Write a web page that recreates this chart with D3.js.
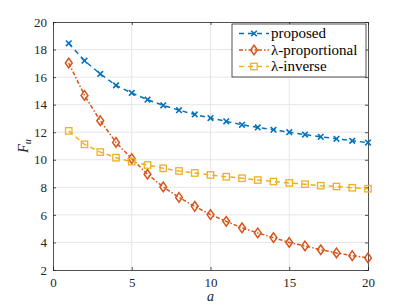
<!DOCTYPE html>
<html>
<head>
<meta charset="utf-8">
<script src="https://cdn.jsdelivr.net/npm/d3@7"></script>
<style>
  body { margin: 0; background: #fff; }
  svg text { font-family: "Liberation Serif", "DejaVu Serif", "Times New Roman", serif !important; }
</style>
</head>
<body>
<div id="chart"></div>
<script>
// data
const aValues = d3.range(1, 21);
const proposed = [18.45, 17.19, 16.23, 15.4, 14.85, 14.36, 13.95, 13.6, 13.29, 13.03,
                  12.79, 12.54, 12.35, 12.18, 12.0, 11.83, 11.67, 11.52, 11.38, 11.25];
const lambdaProp = [17.02, 14.67, 12.84, 11.26, 10.08, 8.95, 8.03, 7.27, 6.62, 6.02,
                    5.53, 5.06, 4.69, 4.35, 4.0, 3.75, 3.47, 3.24, 3.04, 2.88];
const lambdaInv = [12.1, 11.12, 10.56, 10.15, 9.86, 9.62, 9.38, 9.19, 9.04, 8.9,
                   8.77, 8.66, 8.53, 8.42, 8.32, 8.23, 8.12, 8.06, 7.97, 7.9];
const xTicks = [0, 5, 10, 15, 20];
const yTicks = [2, 4, 6, 8, 10, 12, 14, 16, 18, 20];
const seriesNames = ["proposed", "\u03bb-proportional", "\u03bb-inverse"];

const W = 407, H = 305;
const margin = {left: 53, right: 39, top: 22, bottom: 35};
const serif = '"Liberation Serif", "DejaVu Serif", serif';

const svg = d3.select("#chart").append("svg")
    .attr("width", W)
    .attr("height", H)
    .attr("font-family", serif);

const x = d3.scaleLinear().domain([0, 20]).range([margin.left, W - margin.right]);
const y = d3.scaleLinear().domain([2, 20]).range([H - margin.bottom, margin.top]);

// grid
svg.append("g").selectAll("line").data(xTicks.slice(1, -1)).join("line")
    .attr("x1", d => x(d)).attr("x2", d => x(d))
    .attr("y1", y(2)).attr("y2", y(20))
    .attr("stroke", "#e6e6e6").attr("stroke-width", 1);
svg.append("g").selectAll("line").data(yTicks.slice(1, -1)).join("line")
    .attr("x1", x(0)).attr("x2", x(20))
    .attr("y1", d => y(d)).attr("y2", d => y(d))
    .attr("stroke", "#e6e6e6").attr("stroke-width", 1);

// axes (ticks inward, box)
const axisColor = "#262626";
svg.append("g").attr("transform", `translate(0,${y(2)})`)
    .call(d3.axisBottom(x).tickValues(xTicks).tickSize(-3).tickPadding(8));
svg.append("g").attr("transform", `translate(${x(0)},0)`)
    .call(d3.axisLeft(y).tickValues(yTicks).tickSize(-3).tickPadding(6));
svg.append("g").attr("transform", `translate(0,${y(20)})`)
    .call(d3.axisTop(x).tickValues(xTicks).tickSize(-3).tickFormat(""));
svg.append("g").attr("transform", `translate(${x(20)},0)`)
    .call(d3.axisRight(y).tickValues(yTicks).tickSize(-3).tickFormat(""));
svg.selectAll("g").attr("font-family", serif);
svg.selectAll(".domain").attr("stroke", axisColor).attr("stroke-width", 0.8);
svg.selectAll(".tick line").attr("stroke", axisColor).attr("stroke-width", 0.8);
svg.selectAll(".tick text").attr("fill", axisColor).attr("font-size", 13);

// axis labels
svg.append("text")
    .attr("x", x(10)).attr("y", 301)
    .attr("text-anchor", "middle")
    .attr("font-size", 14).attr("font-style", "italic")
    .attr("fill", axisColor)
    .text("a");
const yl = svg.append("text")
    .attr("transform", `translate(28,${y(11)}) rotate(-90)`)
    .attr("text-anchor", "middle")
    .attr("font-size", 14).attr("font-style", "italic")
    .attr("fill", axisColor);
yl.append("tspan").text("F");
yl.append("tspan").attr("dy", 3).attr("font-size", 10).text("u");

// series
const series = [
  {name: seriesNames[0], values: proposed, color: "#0072BD", dash: "5,4", marker: "x"},
  {name: seriesNames[1], values: lambdaProp, color: "#D95319", dash: "4,2,1.5,2", marker: "diamond"},
  {name: seriesNames[2], values: lambdaInv, color: "#EDB120", dash: "5,4", marker: "square"}
];

const line = d3.line().x((d, i) => x(aValues[i])).y(d => y(d));

function drawMarker(g, type, color) {
  if (type === "x") {
    g.append("path").attr("d", "M-2.8,-2.8L2.8,2.8M-2.8,2.8L2.8,-2.8")
      .attr("stroke", color).attr("stroke-width", 1.6).attr("fill", "none");
  } else if (type === "diamond") {
    g.append("path").attr("d", "M0,-4.8L3.4,0L0,4.8L-3.4,0Z")
      .attr("stroke", color).attr("stroke-width", 1.5).attr("fill", "none");
  } else {
    g.append("rect").attr("x", -3.2).attr("y", -3.2).attr("width", 6.4).attr("height", 6.4)
      .attr("stroke", color).attr("stroke-width", 1.3).attr("fill", "none");
  }
}

series.forEach(s => {
  svg.append("path").datum(s.values)
    .attr("d", line)
    .attr("fill", "none")
    .attr("stroke", s.color)
    .attr("stroke-width", 1.5)
    .attr("stroke-dasharray", s.dash);
  s.values.forEach((v, i) => {
    const g = svg.append("g").attr("transform", `translate(${x(aValues[i])},${y(v)})`);
    drawMarker(g, s.marker, s.color);
  });
});

// legend
const lg = svg.append("g");
lg.append("rect")
    .attr("x", 232).attr("y", 24).attr("width", 134).attr("height", 53)
    .attr("fill", "#fff").attr("stroke", axisColor).attr("stroke-width", 0.8);
series.forEach((s, i) => {
  const ly = 33.5 + i * 16.5;
  lg.append("line")
    .attr("x1", 239).attr("x2", 269).attr("y1", ly).attr("y2", ly)
    .attr("stroke", s.color).attr("stroke-width", 1.5)
    .attr("stroke-dasharray", s.dash);
  const g = lg.append("g").attr("transform", `translate(254,${ly})`);
  drawMarker(g, s.marker, s.color);
  lg.append("text")
    .attr("x", 271).attr("y", ly + 4.5)
    .attr("font-size", 15)
    .attr("fill", "#000")
    .text(s.name);
});
</script>
</body>
</html>
